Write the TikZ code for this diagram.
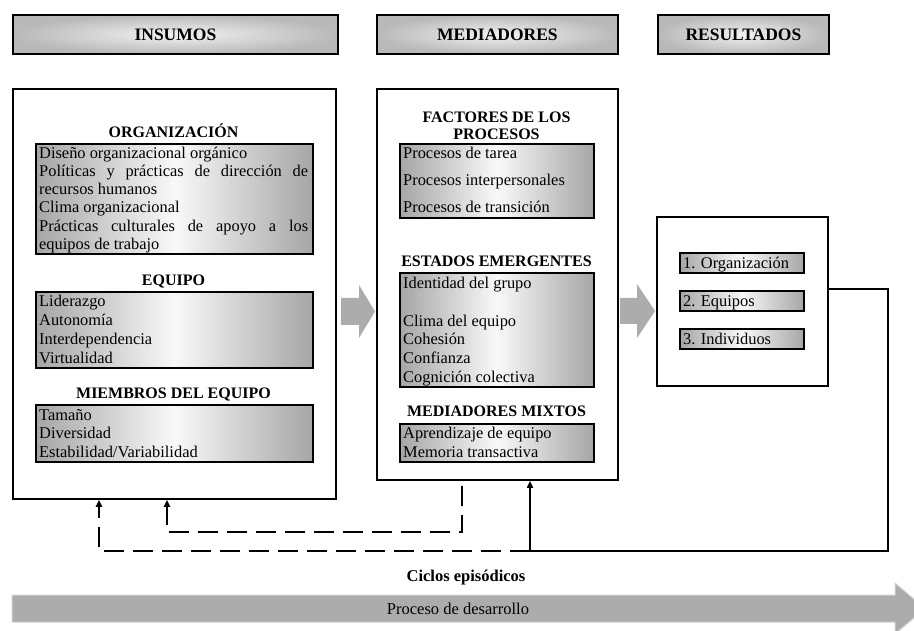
\documentclass[tikz,border=0pt]{standalone}
\usepackage{fontspec}
\setmainfont{Liberation Serif}
\usetikzlibrary{positioning,calc,arrows.meta}

\tikzset{
  headbox/.style={draw=black,line width=1.8pt,inner color=gray!10,outer color=gray!55,anchor=north west,font=\bfseries\fontsize{17.5}{19}\selectfont},
  bigbox/.style={draw=black,line width=1.8pt,fill=white,anchor=north west},
  listbox/.style={draw=black,line width=1.8pt,left color=gray!70,right color=gray!70,middle color=gray!5,anchor=north west},
  titletxt/.style={font=\bfseries\fontsize{16}{17}\selectfont,text height=11pt,text depth=3pt,inner sep=0pt},
  item/.style={font=\fontsize{16.4}{18}\selectfont,text height=11pt,text depth=3.5pt,inner sep=0pt,anchor=west,yshift=-1.5pt},
  blockarrow/.style={fill=gray!65,draw=none},
  feedback/.style={line width=1.8pt,dash pattern=on 20pt off 9pt},
  tip/.style={-{Triangle[length=7pt,width=6pt]}}
}

\begin{document}
\begin{tikzpicture}[x=1pt,y=-1pt]
	\useasboundingbox (0,0) rectangle (914,631);
	
	% cabeceras
	\node[headbox,minimum width=325pt,minimum height=39pt] (insumos) at (12,14) {INSUMOS};
	\node[headbox,minimum width=241pt,minimum height=39pt] (mediadores) at (376,14) {MEDIADORES};
	\node[headbox,minimum width=171pt,minimum height=39pt] (resultados) at (657,14) {RESULTADOS};
	
	% cajas grandes
	\node[bigbox,minimum width=323pt,minimum height=410pt] (insbox) at (12,88) {};
	\node[bigbox,minimum width=241pt,minimum height=391pt] (medbox) at (376,88) {};
	\node[bigbox,minimum width=171pt,minimum height=169pt] (resbox) at (656,216) {};
	
	% insumos
	\node[titletxt] (orgt) at (173.5,134) {ORGANIZACIÓN};
	\node[listbox,minimum width=277pt,minimum height=110pt] (orgbox) at (35,143) {};
	\node[item] (org1) at (39,153) {Diseño organizacional orgánico};
	\node[item] (org2) at (39,171) {\makebox[269pt][s]{Políticas y prácticas de dirección de}};
	\node[item] (org3) at (39,189) {recursos humanos};
	\node[item] (org4) at (39,207) {Clima organizacional};
	\node[item] (org5) at (39,226) {\makebox[269pt][s]{Prácticas culturales de apoyo a los}};
	\node[item] (org6) at (39,244) {equipos de trabajo};
	
	\node[titletxt] (eqt) at (173.5,282) {EQUIPO};
	\node[listbox,minimum width=277pt,minimum height=76pt] (eqbox) at (35,291) {};
	\node[item] (eq1) at (39,301) {Liderazgo};
	\node[item] (eq2) at (39,320) {Autonomía};
	\node[item] (eq3) at (39,339) {Interdependencia};
	\node[item] (eq4) at (39,358) {Virtualidad};
	
	\node[titletxt] (memt) at (173.5,395) {MIEMBROS DEL EQUIPO};
	\node[listbox,minimum width=277pt,minimum height=57pt] (membox) at (35,404) {};
	\node[item] (mem1) at (39,415) {Tamaño};
	\node[item] (mem2) at (39,433) {Diversidad};
	\node[item] (mem3) at (39,452) {Estabilidad/Variabilidad};
	
	% mediadores
	\node[font=\bfseries\fontsize{16}{17}\selectfont,align=center,inner sep=0pt] (fact) at (496.5,125.5) {FACTORES DE LOS\\PROCESOS};
	\node[listbox,minimum width=194pt,minimum height=74pt] (facbox) at (399,143) {};
	\node[item] (fac1) at (403,153) {Procesos de tarea};
	\node[item] (fac2) at (403,180) {Procesos interpersonales};
	\node[item] (fac3) at (403,207) {Procesos de transición};
	
	\node[titletxt] (estt) at (496.5,263) {ESTADOS EMERGENTES};
	\node[listbox,minimum width=194pt,minimum height=114pt] (estbox) at (399,272) {};
	\node[item] (est1) at (403,283) {Identidad del grupo};
	\node[item] (est2) at (403,321) {Clima del equipo};
	\node[item] (est3) at (403,339) {Cohesión};
	\node[item] (est4) at (403,358) {Confianza};
	\node[item] (est5) at (403,377) {Cognición colectiva};
	
	\node[titletxt] (mixt) at (496.5,413) {MEDIADORES MIXTOS};
	\node[listbox,minimum width=194pt,minimum height=38pt] (mixbox) at (399,423) {};
	\node[item] (mix1) at (403,433) {Aprendizaje de equipo};
	\node[item] (mix2) at (403,452) {Memoria transactiva};
	
	% resultados
	\node[listbox,minimum width=124pt,minimum height=20pt] (res1) at (679,252) {};
	\node[item] at (res1.west) [xshift=4pt] (res1t) {1. Organización};
	\node[listbox,minimum width=124pt,minimum height=20pt] (res2) at (679,290) {};
	\node[item] at (res2.west) [xshift=4pt] (res2t) {2. Equipos};
	\node[listbox,minimum width=124pt,minimum height=20pt] (res3) at (679,328) {};
	\node[item] at (res3.west) [xshift=4pt] (res3t) {3. Individuos};
	
	% flechas grandes
	\fill[blockarrow] (341,298) -- (359,298) -- (359,285) -- (375,311.5) -- (359,338) -- (359,325) -- (341,325) -- cycle;
	\fill[blockarrow] (620,298) -- (637,298) -- (637,284) -- (655,311) -- (637,338) -- (637,324) -- (620,324) -- cycle;
	
	% retroalimentacion
	\coordinate (loopr) at (888,289);
	\coordinate (loopb) at (530,551);
	\coordinate (fbl) at (99,551);
	\coordinate (fbm) at (462,532);
	\coordinate (fbs) at (167,532);
	
	\draw[line width=1.6pt,tip] (resbox.east |- loopr) -- (loopr) |- (loopb) -- (loopb |- medbox.south);
	\draw[feedback,tip] (loopb) -- (fbl) -- (fbl |- insbox.south);
	\draw[feedback,tip] ($(fbm |- medbox.south)+(0,5)$) -- (fbm) -- (fbs) -- (fbs |- insbox.south);
	
	% proceso de desarrollo
	\node[font=\bfseries\fontsize{16.5}{18}\selectfont,inner sep=0pt] (ciclos) at (466,578) {Ciclos episódicos};
	\filldraw[fill=gray!65,draw=gray!35,line width=1pt] (12,595) -- (895,595) -- (895,583) -- (925,608.5) -- (895,634) -- (895,622) -- (12,622) -- cycle;
	\node[font=\fontsize{16.5}{18}\selectfont,inner sep=0pt] (desarrollo) at (458,608.5) {Proceso de desarrollo};
\end{tikzpicture}
\end{document}
